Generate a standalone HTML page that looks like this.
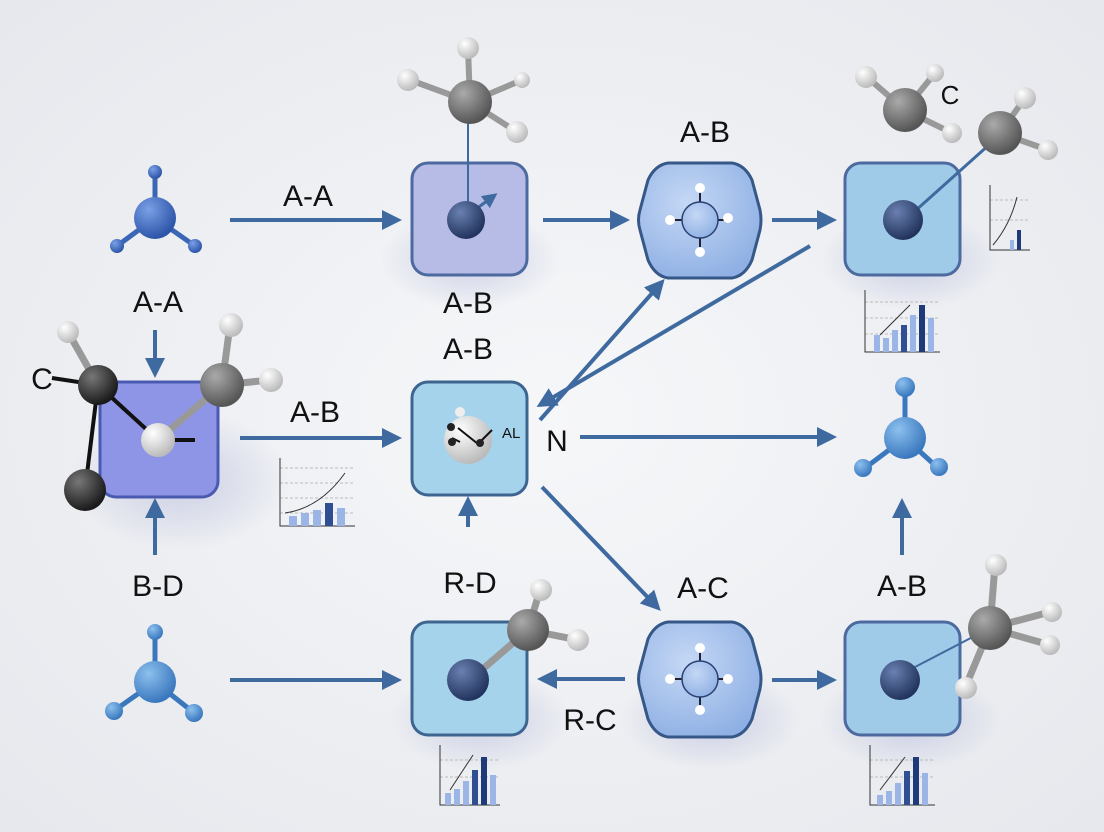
<!DOCTYPE html>
<html><head><meta charset="utf-8"><style>
html,body{margin:0;padding:0;width:1104px;height:832px;overflow:hidden;background:#eef0f3}
text{font-family:"Liberation Sans",sans-serif;fill:#111}
</style></head><body>
<svg width="1104" height="832" viewBox="0 0 1104 832" xmlns="http://www.w3.org/2000/svg">
<defs>
<radialGradient id="bg" cx="0.5" cy="0.5" r="0.7"><stop offset="0" stop-color="#f6f7f9"/><stop offset="1" stop-color="#e6e8ed"/></radialGradient>
<radialGradient id="gBlue" cx="0.35" cy="0.3" r="0.7"><stop offset="0" stop-color="#7aa0e6"/><stop offset="1" stop-color="#2d55a8"/></radialGradient>
<radialGradient id="gLBlue" cx="0.35" cy="0.3" r="0.7"><stop offset="0" stop-color="#8cc0ee"/><stop offset="1" stop-color="#3a78be"/></radialGradient>
<radialGradient id="gDark" cx="0.35" cy="0.3" r="0.7"><stop offset="0" stop-color="#6a80b0"/><stop offset="1" stop-color="#22345e"/></radialGradient>
<radialGradient id="gGray" cx="0.35" cy="0.3" r="0.7"><stop offset="0" stop-color="#aaa"/><stop offset="1" stop-color="#555"/></radialGradient>
<radialGradient id="gBlack" cx="0.35" cy="0.3" r="0.7"><stop offset="0" stop-color="#777"/><stop offset="1" stop-color="#1a1a1a"/></radialGradient>
<radialGradient id="gWhite" cx="0.35" cy="0.3" r="0.7"><stop offset="0" stop-color="#fff"/><stop offset="1" stop-color="#bbb"/></radialGradient>
<radialGradient id="gOct" cx="0.4" cy="0.35" r="0.7"><stop offset="0" stop-color="#c5d8f5"/><stop offset="1" stop-color="#8fb0e4"/></radialGradient>
<radialGradient id="gSh" cx="0.5" cy="0.5" r="0.5"><stop offset="0" stop-color="#8890c8" stop-opacity="0.35"/><stop offset="1" stop-color="#8890c8" stop-opacity="0"/></radialGradient>
<marker id="ah" viewBox="0 0 10 10" refX="8" refY="5" markerWidth="5" markerHeight="5" orient="auto-start-reverse"><path d="M0,0L10,5L0,10z" fill="#3f6aa0"/></marker>
</defs>
<rect width="1104" height="832" fill="url(#bg)"/>
<!-- shadows -->
<ellipse cx="470" cy="260" rx="90" ry="50" fill="url(#gSh)"/>
<ellipse cx="180" cy="480" rx="110" ry="70" fill="url(#gSh)"/>
<ellipse cx="480" cy="720" rx="90" ry="50" fill="url(#gSh)"/>
<ellipse cx="710" cy="720" rx="90" ry="50" fill="url(#gSh)"/>
<ellipse cx="910" cy="720" rx="90" ry="50" fill="url(#gSh)"/>
<ellipse cx="910" cy="260" rx="90" ry="50" fill="url(#gSh)"/>

<g stroke="#3f6aa0" stroke-width="4" fill="none" marker-end="url(#ah)">
<line x1="230" y1="220" x2="398" y2="220"/>
<line x1="543" y1="220" x2="626" y2="220"/>
<line x1="772" y1="220" x2="833" y2="220"/>
<line x1="155" y1="330" x2="155" y2="374"/>
<line x1="240" y1="438" x2="398" y2="438"/>
<line x1="580" y1="437" x2="833" y2="437"/>
<line x1="540" y1="420" x2="662" y2="282"/>
<line x1="810" y1="246" x2="540" y2="405"/>
<line x1="542" y1="487" x2="658" y2="608"/>
<line x1="468" y1="527" x2="468" y2="500"/>
<line x1="155" y1="555" x2="155" y2="502"/>
<line x1="902" y1="555" x2="902" y2="502"/>
<line x1="230" y1="680" x2="398" y2="680"/>
<line x1="625" y1="679" x2="541" y2="679"/>
<line x1="772" y1="680" x2="833" y2="680"/>
</g>

<!-- labels -->
<g font-size="30" text-anchor="middle">
<text x="308" y="206">A-A</text>
<text x="705" y="142">A-B</text>
<text x="468" y="313">A-B</text>
<text x="468" y="359">A-B</text>
<text x="158" y="312">A-A</text>
<text x="315" y="422">A-B</text>
<text x="158" y="596">B-D</text>
<text x="470" y="593">R-D</text>
<text x="703" y="598">A-C</text>
<text x="902" y="596">A-B</text>
<text x="590" y="730">R-C</text>
<text x="557" y="451">N</text>
<text x="42" y="389">C</text>
<text x="950" y="104" font-size="26">C</text>
</g>

<!-- molecule helper: top-left -->
<g stroke="#3a66b5" stroke-width="5">
<line x1="155" y1="218" x2="155" y2="172"/><line x1="155" y1="218" x2="117" y2="246"/><line x1="155" y1="218" x2="195" y2="246"/>
</g>
<circle cx="155" cy="172" r="7" fill="url(#gBlue)"/><circle cx="117" cy="246" r="7" fill="url(#gBlue)"/><circle cx="195" cy="246" r="7" fill="url(#gBlue)"/>
<circle cx="155" cy="218" r="21" fill="url(#gBlue)"/>

<!-- box1 -->
<rect x="412" y="163" width="115" height="112" rx="16" fill="#b7bce6" stroke="#4d6aa0" stroke-width="3"/>
<line x1="468" y1="220" x2="468" y2="105" stroke="#3f6aa0" stroke-width="2"/>
<line x1="468" y1="215" x2="495" y2="195" stroke="#3f6aa0" stroke-width="3" marker-end="url(#ah)"/>
<circle cx="466" cy="220" r="19" fill="url(#gDark)"/>
<g stroke="#999" stroke-width="6"><line x1="470" y1="102" x2="468" y2="48"/><line x1="470" y1="102" x2="410" y2="80"/><line x1="470" y1="102" x2="517" y2="132"/><line x1="470" y1="102" x2="522" y2="80"/></g>
<circle cx="470" cy="102" r="22" fill="url(#gGray)"/>
<circle cx="468" cy="48" r="11" fill="url(#gWhite)"/><circle cx="408" cy="80" r="11" fill="url(#gWhite)"/><circle cx="517" cy="132" r="11" fill="url(#gWhite)"/><circle cx="522" cy="80" r="8" fill="url(#gWhite)"/>

<!-- octagon top -->
<path d="M668,163 L732,163 Q745,165 752,180 L760,210 Q762,220 760,230 L752,260 Q745,276 732,278 L668,278 Q655,276 648,260 L640,230 Q637,220 640,210 L648,180 Q655,165 668,163z" fill="url(#gOct)" stroke="#355889" stroke-width="3"/>
<g stroke="#223" stroke-width="2"><line x1="670" y1="220" x2="728" y2="220"/><line x1="700" y1="188" x2="700" y2="252"/></g>
<circle cx="700" cy="220" r="18" fill="url(#gOct)" stroke="#2a4070" stroke-width="1.5"/>
<circle cx="670" cy="220" r="5" fill="#fff"/><circle cx="728" cy="218" r="5" fill="#fff"/><circle cx="700" cy="188" r="5" fill="#fff"/><circle cx="700" cy="252" r="5" fill="#fff"/>

<!-- box2 top right -->
<rect x="845" y="163" width="115" height="112" rx="16" fill="#9fcbe8" stroke="#4d6aa0" stroke-width="3"/>
<line x1="905" y1="220" x2="1000" y2="135" stroke="#3f6aa0" stroke-width="3"/>
<circle cx="903" cy="220" r="20" fill="url(#gDark)"/>
<g stroke="#999" stroke-width="6"><line x1="1000" y1="133" x2="1025" y2="98"/><line x1="1000" y1="133" x2="1048" y2="150"/></g>
<circle cx="1000" cy="133" r="22" fill="url(#gGray)"/>
<circle cx="1025" cy="98" r="11" fill="url(#gWhite)"/><circle cx="1048" cy="150" r="10" fill="url(#gWhite)"/>
<g stroke="#999" stroke-width="6"><line x1="905" y1="110" x2="868" y2="78"/><line x1="905" y1="110" x2="935" y2="73"/><line x1="905" y1="110" x2="950" y2="132"/></g>
<circle cx="905" cy="110" r="22" fill="url(#gGray)"/>
<circle cx="866" cy="77" r="11" fill="url(#gWhite)"/><circle cx="935" cy="73" r="9" fill="url(#gWhite)"/><circle cx="952" cy="133" r="10" fill="url(#gWhite)"/>

<!-- left box -->
<rect x="100" y="382" width="118" height="115" rx="16" fill="#8f95e6" stroke="#4a5ab0" stroke-width="3"/>
<g stroke="#111" stroke-width="4"><line x1="52" y1="378" x2="98" y2="385"/><line x1="98" y1="385" x2="85" y2="490"/><line x1="98" y1="385" x2="158" y2="440"/><line x1="160" y1="440" x2="195" y2="440"/></g>
<g stroke="#999" stroke-width="7"><line x1="98" y1="385" x2="68" y2="332"/><line x1="222" y1="385" x2="230" y2="325"/><line x1="222" y1="385" x2="270" y2="380"/><line x1="222" y1="385" x2="158" y2="440"/></g>
<circle cx="98" cy="385" r="20" fill="url(#gBlack)"/>
<circle cx="85" cy="490" r="21" fill="url(#gBlack)"/>
<circle cx="222" cy="385" r="22" fill="url(#gGray)"/>
<circle cx="68" cy="332" r="11" fill="url(#gWhite)"/><circle cx="231" cy="325" r="12" fill="url(#gWhite)"/><circle cx="271" cy="380" r="12" fill="url(#gWhite)"/>
<circle cx="158" cy="440" r="17" fill="url(#gWhite)"/>

<!-- center box -->
<rect x="412" y="382" width="115" height="113" rx="16" fill="#a6d3ec" stroke="#3d6590" stroke-width="3"/>
<circle cx="468" cy="440" r="24" fill="url(#gWhite)"/>
<g stroke="#111" stroke-width="2"><line x1="458" y1="428" x2="478" y2="444"/><line x1="452" y1="438" x2="460" y2="442"/><line x1="478" y1="444" x2="492" y2="430"/></g>
<circle cx="460" cy="412" r="5" fill="#eee"/><circle cx="451" cy="427" r="4" fill="#222"/><circle cx="452" cy="442" r="4" fill="#222"/><circle cx="480" cy="443" r="4" fill="#222"/>
<text x="502" y="438" font-size="15">AL</text>

<!-- right molecule -->
<g stroke="#3a78be" stroke-width="5"><line x1="905" y1="438" x2="905" y2="385"/><line x1="905" y1="438" x2="865" y2="468"/><line x1="905" y1="438" x2="938" y2="468"/></g>
<circle cx="905" cy="387" r="10" fill="url(#gLBlue)"/><circle cx="863" cy="468" r="9" fill="url(#gLBlue)"/><circle cx="939" cy="467" r="9" fill="url(#gLBlue)"/>
<circle cx="905" cy="438" r="21" fill="url(#gLBlue)"/>

<!-- bottom-left molecule -->
<g stroke="#3a78be" stroke-width="5"><line x1="155" y1="682" x2="155" y2="632"/><line x1="155" y1="682" x2="115" y2="710"/><line x1="155" y1="682" x2="193" y2="712"/></g>
<circle cx="155" cy="632" r="8" fill="url(#gLBlue)"/><circle cx="114" cy="711" r="9" fill="url(#gLBlue)"/><circle cx="194" cy="713" r="9" fill="url(#gLBlue)"/>
<circle cx="155" cy="682" r="21" fill="url(#gLBlue)"/>

<!-- bottom box -->
<rect x="412" y="622" width="115" height="113" rx="16" fill="#a6d3ec" stroke="#3d6590" stroke-width="3"/>
<g stroke="#999" stroke-width="7"><line x1="470" y1="680" x2="528" y2="630"/><line x1="528" y1="630" x2="540" y2="590"/><line x1="528" y1="630" x2="578" y2="640"/></g>
<circle cx="528" cy="630" r="21" fill="url(#gGray)"/>
<circle cx="541" cy="590" r="11" fill="url(#gWhite)"/><circle cx="578" cy="640" r="11" fill="url(#gWhite)"/>
<circle cx="468" cy="680" r="21" fill="url(#gDark)"/>

<!-- bottom octagon -->
<path d="M668,622 L732,622 Q745,624 752,639 L760,669 Q762,679 760,689 L752,719 Q745,735 732,737 L668,737 Q655,735 648,719 L640,689 Q637,679 640,669 L648,639 Q655,624 668,622z" fill="url(#gOct)" stroke="#355889" stroke-width="3"/>
<g stroke="#223" stroke-width="2"><line x1="670" y1="679" x2="728" y2="679"/><line x1="700" y1="648" x2="700" y2="710"/></g>
<circle cx="700" cy="679" r="18" fill="url(#gOct)" stroke="#2a4070" stroke-width="1.5"/>
<circle cx="670" cy="679" r="5" fill="#fff"/><circle cx="728" cy="679" r="5" fill="#fff"/><circle cx="700" cy="648" r="5" fill="#fff"/><circle cx="700" cy="710" r="5" fill="#fff"/>

<!-- bottom right box -->
<rect x="845" y="622" width="115" height="113" rx="16" fill="#9fcbe8" stroke="#4d6aa0" stroke-width="3"/>
<line x1="890" y1="680" x2="990" y2="628" stroke="#3f6aa0" stroke-width="2"/>
<g stroke="#999" stroke-width="7"><line x1="990" y1="628" x2="995" y2="565"/><line x1="990" y1="628" x2="1050" y2="612"/><line x1="990" y1="628" x2="1050" y2="645"/><line x1="990" y1="628" x2="965" y2="688"/></g>
<circle cx="990" cy="628" r="22" fill="url(#gGray)"/>
<circle cx="996" cy="565" r="11" fill="url(#gWhite)"/><circle cx="1052" cy="612" r="10" fill="url(#gWhite)"/><circle cx="1050" cy="645" r="10" fill="url(#gWhite)"/><circle cx="966" cy="688" r="11" fill="url(#gWhite)"/>
<circle cx="900" cy="680" r="20" fill="url(#gDark)"/>

<!-- charts -->
<g id="c1" transform="translate(275,458)">
<g stroke="#bbb" stroke-width="1" stroke-dasharray="3,2"><line x1="5" y1="10" x2="80" y2="10"/><line x1="5" y1="25" x2="80" y2="25"/><line x1="5" y1="40" x2="80" y2="40"/><line x1="5" y1="55" x2="80" y2="55"/></g>
<path d="M5,0V68H80" stroke="#333" fill="none"/>
<rect x="14" y="58" width="8" height="10" fill="#9bb6e6"/><rect x="26" y="55" width="8" height="13" fill="#9bb6e6"/><rect x="38" y="52" width="8" height="16" fill="#9bb6e6"/><rect x="50" y="45" width="8" height="23" fill="#2f4f92"/><rect x="62" y="50" width="8" height="18" fill="#9bb6e6"/>
<path d="M10,55 Q45,50 70,15" stroke="#333" fill="none"/>
</g>
<g transform="translate(860,290)">
<g stroke="#bbb" stroke-dasharray="3,2"><line x1="5" y1="12" x2="80" y2="12"/><line x1="5" y1="28" x2="80" y2="28"/><line x1="5" y1="44" x2="80" y2="44"/></g>
<path d="M5,0V62H80" stroke="#333" fill="none"/>
<rect x="14" y="45" width="6" height="17" fill="#9bb6e6"/><rect x="23" y="48" width="6" height="14" fill="#9bb6e6"/><rect x="32" y="40" width="6" height="22" fill="#9bb6e6"/><rect x="41" y="35" width="6" height="27" fill="#2f4f92"/><rect x="50" y="25" width="6" height="37" fill="#9bb6e6"/><rect x="59" y="15" width="6" height="47" fill="#1e3a78"/><rect x="68" y="28" width="6" height="34" fill="#9bb6e6"/>
<line x1="20" y1="45" x2="50" y2="15" stroke="#333"/>
</g>
<g transform="translate(985,185)">
<g stroke="#bbb" stroke-dasharray="3,2"><line x1="5" y1="15" x2="45" y2="15"/><line x1="5" y1="35" x2="45" y2="35"/></g>
<path d="M5,0V65H45" stroke="#333" fill="none"/>
<rect x="25" y="55" width="4" height="10" fill="#9bb6e6"/><rect x="32" y="45" width="4" height="20" fill="#1e3a78"/>
<path d="M8,60 Q25,40 32,12" stroke="#333" fill="none"/>
</g>
<g transform="translate(435,745)">
<g stroke="#bbb" stroke-dasharray="3,2"><line x1="5" y1="15" x2="65" y2="15"/><line x1="5" y1="32" x2="65" y2="32"/></g>
<path d="M5,0V60H65" stroke="#333" fill="none"/>
<rect x="10" y="48" width="6" height="12" fill="#9bb6e6"/><rect x="19" y="44" width="6" height="16" fill="#9bb6e6"/><rect x="28" y="36" width="6" height="24" fill="#9bb6e6"/><rect x="37" y="25" width="6" height="35" fill="#2f4f92"/><rect x="46" y="12" width="6" height="48" fill="#1e3a78"/><rect x="55" y="30" width="6" height="30" fill="#9bb6e6"/>
<line x1="15" y1="45" x2="38" y2="10" stroke="#333"/>
</g>
<g transform="translate(865,745)">
<g stroke="#bbb" stroke-dasharray="3,2"><line x1="5" y1="15" x2="70" y2="15"/><line x1="5" y1="32" x2="70" y2="32"/></g>
<path d="M5,0V60H70" stroke="#333" fill="none"/>
<rect x="12" y="50" width="6" height="10" fill="#9bb6e6"/><rect x="21" y="46" width="6" height="14" fill="#9bb6e6"/><rect x="30" y="38" width="6" height="22" fill="#9bb6e6"/><rect x="39" y="26" width="6" height="34" fill="#2f4f92"/><rect x="48" y="12" width="6" height="48" fill="#1e3a78"/><rect x="57" y="28" width="6" height="32" fill="#9bb6e6"/>
<line x1="15" y1="45" x2="40" y2="12" stroke="#333"/>
</g>
</svg>
</body></html>
